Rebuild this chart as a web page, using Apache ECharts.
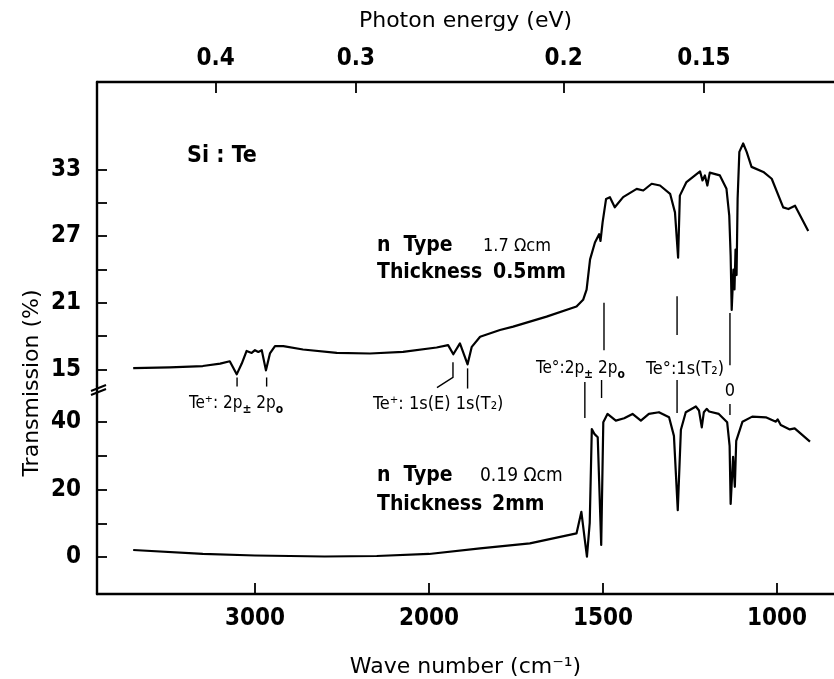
<!DOCTYPE html>
<html><head><meta charset="utf-8">
<script src="https://cdn.jsdelivr.net/npm/echarts@6/dist/echarts.min.js"></script>
<style>html,body{margin:0;padding:0;background:#fff}#c{width:834px;height:679px}</style>
</head><body><div id="c"></div>
<script>
// ---------------- data ----------------
const waveUpper = [3700,3490,3300,3200,3145,3105,3076,3048,3019,3000,2981,2961,2937,2914,2885,2837,2724,2530,2339,2149,1978,1945,1930,1911,1889,1877,1853,1796,1758,1662,1576,1557,1547,1537,1523,1511,1507,1501,1491,1480,1466,1442,1403,1384,1360,1336,1307,1293,1284,1279,1260,1221,1214,1207,1200,1193,1164,1145,1137,1133,1130,1125,1122,1119,1116,1113,1108,1097,1087,1073,1039,1015,982,967,948,910];
const transUpper = [15.12,15.18,15.3,15.52,15.73,14.55,15.52,16.66,16.48,16.73,16.57,16.73,14.91,16.43,17.09,17.09,16.79,16.48,16.43,16.57,16.97,17.18,16.36,17.34,15.45,17.03,17.94,18.55,18.85,19.75,20.66,21.27,22.18,24.91,26.43,27.18,26.57,28.25,30.36,30.52,29.61,30.52,31.27,31.12,31.73,31.57,30.82,29.15,25.06,30.66,31.88,32.85,32.03,32.48,31.57,32.73,32.48,31.27,28.85,25.21,20.36,24.0,22.2,25.8,23.5,30.36,34.6,35.36,34.6,33.25,32.79,32.18,29.6,29.45,29.75,27.48];
const waveLower = [3700,3300,3000,2600,2300,2000,1853,1710,1576,1562,1552,1546,1538,1532,1524,1515,1505,1499,1487,1463,1439,1415,1391,1368,1339,1310,1296,1285,1276,1262,1233,1224,1216,1210,1202,1195,1167,1143,1136,1133,1126,1121,1117,1099,1071,1032,1003,998,989,963,949,905];
const transLower = [2.07,0.9,0.45,0.15,0.3,0.9,2.58,4.06,7.0,13.4,5.0,0.1,10.1,37.9,36.4,35.5,3.56,39.9,42.4,40.4,41.1,42.4,40.4,42.4,42.9,41.4,35.9,13.9,37.7,42.9,44.6,43.4,38.4,42.9,43.9,43.1,42.4,39.9,32.9,15.7,29.7,20.8,34.4,40.1,41.6,41.4,40.1,40.8,39.1,37.8,38.1,34.2];

const waveTicks = [3000, 2000, 1500, 1000];
const waveTickLabels = ['3000', '2000', '1500', '1000'];
const energyTicks = [0.4, 0.3, 0.2, 0.15];
const energyTickLabels = ['0.4', '0.3', '0.2', '0.15'];
const upperTicks = [15, 18, 21, 24, 27, 30, 33];
const upperLabels = [15, 21, 27, 33];
const lowerTicks = [0, 10, 20, 30, 40];
const lowerLabels = [0, 20, 40];

// annotation anchors (wavenumber, panel, transmission values)
const annLines = [
  {grid: 0, pts: [[3103, 14.27], [3103, 13.45]]},
  {grid: 0, pts: [[2933, 14.27], [2933, 13.45]]},
  {grid: 0, pts: [[1931, 15.64], [1931, 14.27], [1977, 13.36]]},
  {grid: 0, pts: [[1889, 15.09], [1889, 13.27]]},
  {grid: 1, pts: [[1552, 51.85], [1552, 41.19]]},
  {grid: 1, pts: [[1504, 52.44], [1504, 47.11]]},
  {grid: 0, pts: [[1497, 21.0], [1497, 16.73]]},
  {grid: 1, pts: [[1287, 52.44], [1287, 42.67]]},
  {grid: 0, pts: [[1287, 21.6], [1287, 18.09]]},
  {grid: 0, pts: [[1135, 20.09], [1135, 15.36]]},
  {grid: 1, pts: [[1135, 45.3], [1135, 42.07]]}
];

// ---------------- helpers ----------------
const EV_TO_CM = 8065.54;
// spectrometer abscissa: scale doubles below 2000 cm-1
function toU(w) { return w >= 2000 ? (3000 - w) / 1000 : 1 + (2000 - w) / 500; }
const X_MIN = toU(3908), X_MAX = toU(836);
const FONT = "'DejaVu Sans Condensed','DejaVu Sans',sans-serif";
const NUM_FONT = "'DejaVu Sans Condensed',sans-serif";
const TITLE_FONT = "'DejaVu Sans',sans-serif";
const GRID_LEFT = 97, TOP0 = 82, BREAK_Y = 386, BOTTOM1 = 594;

const waveU = waveTicks.map(toU);
const energyU = energyTicks.map(e => toU(e * EV_TO_CM));
function lookup(vals, labels, v) {
  for (let i = 0; i < vals.length; i++) if (Math.abs(vals[i] - v) < 1e-6) return labels[i];
  return '';
}

const chart = echarts.init(document.getElementById('c'), null, {renderer: 'canvas'});
const axisLineStyle = {color: '#000', width: 2.4};
const tickStyle = {color: '#000', width: 1.8};
const labelStyle = {color: '#000', fontFamily: NUM_FONT, fontWeight: 'bold', fontSize: 24};
const titleStyle = {color: '#000', fontFamily: TITLE_FONT, fontSize: 22, fontWeight: 'normal'};

const option = {
  animation: false,
  backgroundColor: '#fff',
  grid: [
    {left: GRID_LEFT, right: 0, top: TOP0, height: BREAK_Y - TOP0},
    {left: GRID_LEFT, right: 0, top: BREAK_Y, height: BOTTOM1 - BREAK_Y}
  ],
  xAxis: [
    {
      gridIndex: 0, type: 'value', position: 'top', min: X_MIN, max: X_MAX,
      axisLine: {show: true, onZero: false, lineStyle: axisLineStyle},
      axisTick: {show: true, inside: true, length: 11, customValues: energyU, lineStyle: tickStyle},
      axisLabel: {show: true, customValues: energyU, margin: 11, formatter: v => lookup(energyU, energyTickLabels, v), ...labelStyle},
      splitLine: {show: false},
      name: 'Photon energy (eV)', nameLocation: 'middle', nameGap: 50,
      nameTextStyle: titleStyle
    },
    {
      gridIndex: 1, type: 'value', position: 'bottom', min: X_MIN, max: X_MAX,
      axisLine: {show: true, onZero: false, lineStyle: axisLineStyle},
      axisTick: {show: true, inside: true, length: 11, customValues: waveU, lineStyle: tickStyle},
      axisLabel: {show: true, customValues: waveU, margin: 13, formatter: v => lookup(waveU, waveTickLabels, v), ...labelStyle},
      splitLine: {show: false},
      name: 'Wave number (cm⁻¹)', nameLocation: 'middle', nameGap: 62,
      nameTextStyle: titleStyle
    }
  ],
  yAxis: [
    {
      gridIndex: 0, type: 'value', min: 13.5, max: 40.9,
      axisLine: {show: true, onZero: false, lineStyle: axisLineStyle},
      axisTick: {show: true, inside: true, length: 10, customValues: upperTicks, lineStyle: tickStyle},
      axisLabel: {show: true, customValues: upperLabels, margin: 16, ...labelStyle},
      splitLine: {show: false}
    },
    {
      gridIndex: 1, type: 'value', min: -10.96, max: 50.67,
      axisLine: {show: true, onZero: false, lineStyle: axisLineStyle},
      axisTick: {show: true, inside: true, length: 10, customValues: lowerTicks, lineStyle: tickStyle},
      axisLabel: {show: true, customValues: lowerLabels, margin: 16, ...labelStyle},
      splitLine: {show: false}
    }
  ],
  series: [
    {
      type: 'line', xAxisIndex: 0, yAxisIndex: 0, showSymbol: false, symbol: 'none',
      lineStyle: {color: '#000', width: 2.2, join: 'round'}, itemStyle: {color: '#000'},
      data: waveUpper.map((w, i) => [toU(w), transUpper[i]])
    },
    {
      type: 'line', xAxisIndex: 1, yAxisIndex: 1, showSymbol: false, symbol: 'none',
      lineStyle: {color: '#000', width: 2.2, join: 'round'}, itemStyle: {color: '#000'},
      data: waveLower.map((w, i) => [toU(w), transLower[i]])
    }
  ]
};
chart.setOption(option);

// ---------------- annotations ----------------
const g = [];
annLines.forEach(a => {
  const pts = a.pts.map(p => chart.convertToPixel({gridIndex: a.grid}, [toU(p[0]), p[1]]));
  g.push({type: 'polyline', silent: true, shape: {points: pts}, style: {stroke: '#000', lineWidth: 1.4, fill: null}});
});

// axis break mark
g.push({type: 'polygon', silent: true, shape: {points: [[GRID_LEFT - 4, BREAK_Y + 8], [GRID_LEFT + 4, BREAK_Y + 5], [GRID_LEFT + 4, BREAK_Y + 1], [GRID_LEFT - 4, BREAK_Y + 4]]}, style: {fill: '#fff'}});
g.push({type: 'line', silent: true, shape: {x1: GRID_LEFT - 6, y1: BREAK_Y + 9, x2: GRID_LEFT + 9, y2: BREAK_Y + 3}, style: {stroke: '#000', lineWidth: 2}});
g.push({type: 'line', silent: true, shape: {x1: GRID_LEFT - 6, y1: BREAK_Y + 5, x2: GRID_LEFT + 9, y2: BREAK_Y - 1}, style: {stroke: '#000', lineWidth: 2}});

function txt(text, x, y, size, weight, align, extra, family) {
  return {type: 'text', silent: true, x: x, y: y,
    style: Object.assign({text: text, fill: '#000', fontFamily: family || FONT, fontSize: size, fontWeight: weight,
      align: align || 'left', verticalAlign: 'middle'}, extra || {})};
}
const subRich = {s: {fontSize: 12, verticalAlign: 'bottom', fontFamily: FONT, fontWeight: 'bold', lineHeight: 24}};
const annStyle = {rich: subRich, lineHeight: 24};

g.push(Object.assign(txt('Transmission (%)', 32, 383, 22, 'normal', 'center', null, TITLE_FONT), {rotation: Math.PI / 2}));
g.push(txt('Si : Te', 187, 156, 23, 'bold'));
g.push(txt('n  Type', 377, 246, 21, 'bold'));
g.push(txt('1.7 Ωcm', 483, 246, 18, 'normal'));
g.push(txt('Thickness', 377, 273, 21, 'bold'));
g.push(txt('0.5mm', 493, 273, 21, 'bold'));
g.push(txt('n  Type', 377, 476, 21, 'bold'));
g.push(txt('0.19 Ωcm', 480, 476, 19, 'normal'));
g.push(txt('Thickness', 377, 505, 21, 'bold'));
g.push(txt('2mm', 492, 505, 21, 'bold'));

g.push(txt('Te⁺: 2p{s|±} 2p{s|o}', 189, 404, 17, 'normal', 'left', annStyle));
g.push(txt('Te⁺: 1s(E) 1s(T₂)', 373, 404, 18, 'normal', 'left', annStyle));
g.push(txt('Te°:2p{s|±} 2p{s|o}', 536, 369, 17, 'normal', 'left', annStyle));
g.push(txt('Te°:1s(T₂)', 646, 369, 18, 'normal', 'left', annStyle));
g.push(txt('0', 730, 391, 18, 'normal', 'center'));

chart.setOption({graphic: g});
</script>
</body></html>
